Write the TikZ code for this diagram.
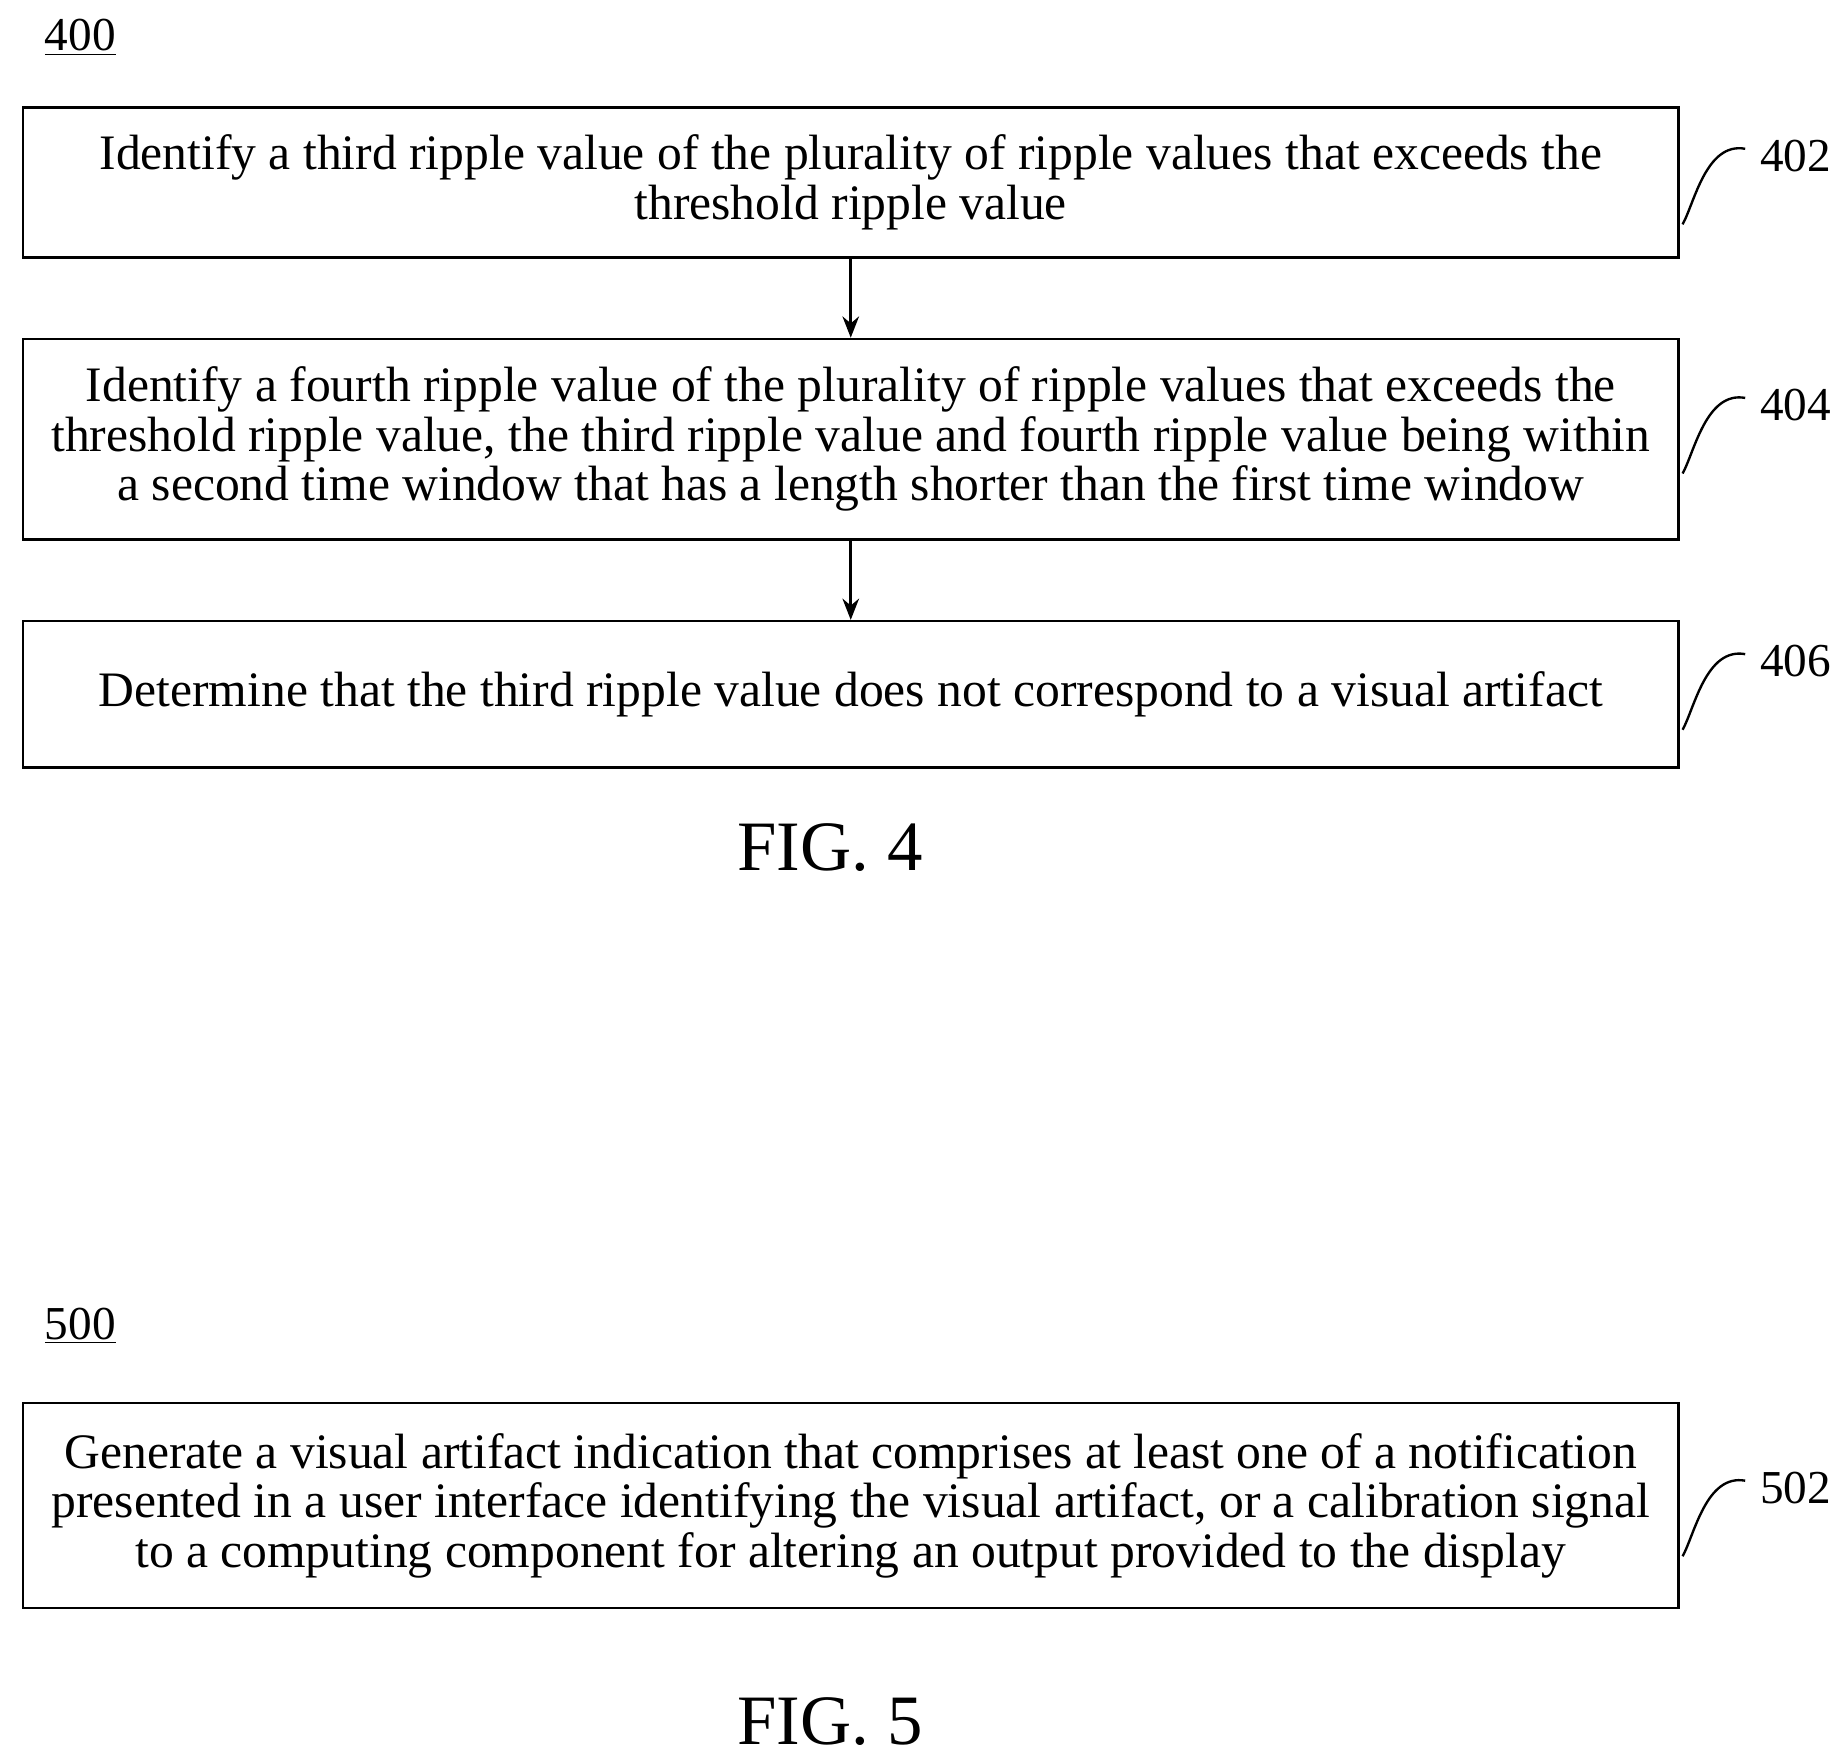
\documentclass[tikz,border=0pt]{standalone}
\usepackage{fontspec}
\setmainfont{Liberation Serif}
\usetikzlibrary{arrows,arrows.meta,positioning,calc}
\begin{document}
\begin{tikzpicture}[x=0.5pt, y=-0.5pt, >={Stealth[length=9pt,width=7pt]}, semithick]
\tikzstyle{flowbox}=[draw=black, line width=1pt, minimum width=701pt, align=center, font=\fontsize{21}{21}\selectfont, inner sep=0pt]
\tikzstyle{refnum}=[font=\fontsize{20}{21}\selectfont, anchor=west, inner sep=0pt]
\tikzstyle{lead}=[line width=1pt, -]
\useasboundingbox (0,0) rectangle (1560,1490);
% FIG. 4
\node[font=\fontsize{20}{21}\selectfont] (n400) at (68,32) {\underline{400}};
\node[flowbox, minimum height=63.5pt] (s402) at (720.5,154.5) {Identify a third ripple value of the plurality of ripple values that exceeds the\\threshold ripple value};
\node[flowbox, minimum height=85pt] (s404) at (720.5,372) {Identify a fourth ripple value of the plurality of ripple values that exceeds the\\threshold ripple value, the third ripple value and fourth ripple value being within\\a second time window that has a length shorter than the first time window};
\node[flowbox, minimum height=62pt] (s406) at (720.5,588) {Determine that the third ripple value does not correspond to a visual artifact};
\node[font=\fontsize{30}{33}\selectfont] (fig4) at (703,718) {FIG. 4};
\draw[->, line width=1.2pt] (s402) -- (s404);
\draw[->, line width=1.2pt] (s404) -- (s406);
% FIG. 5
\node[font=\fontsize{20}{21}\selectfont] (n500) at (68,1123) {\underline{500}};
\node[flowbox, minimum height=87pt] (s502) at (720.5,1275) {Generate a visual artifact indication that comprises at least one of a notification\\presented in a user interface identifying the visual artifact, or a calibration signal\\to a computing component for altering an output provided to the display};
\node[font=\fontsize{30}{33}\selectfont] (fig5) at (703,1458) {FIG. 5};
% reference numerals
\foreach \n/\y/\t in {r402/132/402, r404/343/404, r406/560/406, r502/1260/502}{
  \node[refnum] (\n) at (1490,\y) {\t};
  \draw[lead] ($(\n.west)+(-12,-6)$) .. controls ($(\n.west)+(-45,-12)$) and ($(\n.west)+(-55,40)$) .. ($(\n.west)+(-65,58)$);
}
\end{tikzpicture}
\end{document}
